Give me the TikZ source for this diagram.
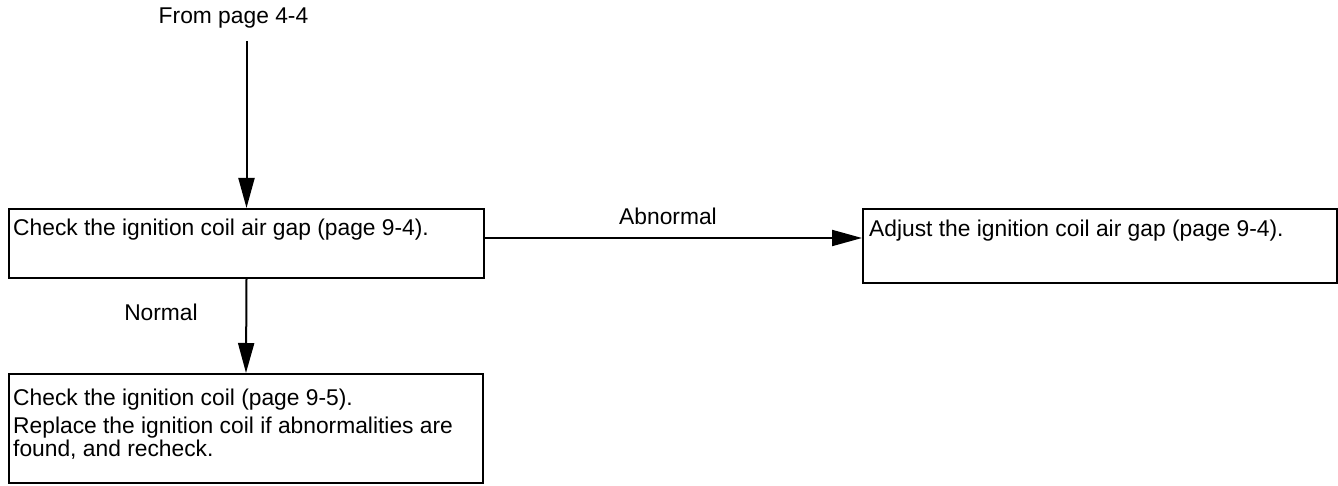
\documentclass[tikz,border=0pt]{standalone}
\usepackage{fontspec}
\setmainfont{Liberation Sans}
\usetikzlibrary{arrows.meta,fit}
\begin{document}
\begin{tikzpicture}[x=1pt,y=-1pt,
  stepbox/.style={draw, line width=2pt, inner sep=0pt},
  lbl/.style={anchor=base west, inner sep=0pt, font=\fontsize{22.8}{27}\selectfont},
  midlbl/.style={anchor=base, inner sep=0pt, font=\fontsize{22.8}{27}\selectfont},
  flow/.style={line width=2pt, -{Triangle[length=30pt,width=16pt]}}]
\useasboundingbox (0,0) rectangle (1338,486);

% step boxes
\node[stepbox, fit={(9,209) (484,278)}] (gapcheck) {};
\node[stepbox, fit={(863,209) (1337,283)}] (adjust) {};
\node[stepbox, fit={(9,374) (483,483)}] (coilcheck) {};

% box texts
\node[lbl] (gapcheckText) at (13,236) {Check the ignition coil air gap (page 9-4).};
\node[lbl] (adjustText) at (869,237) {Adjust the ignition coil air gap (page 9-4).};
\node[lbl] (coilText1) at (13,405) {Check the ignition coil (page 9-5).};
\node[lbl] (coilText2) at (13,433) {Replace the ignition coil if abnormalities are};
\node[lbl] (coilText3) at (13,456) {found, and recheck.};

% entry point
\node[midlbl] (from) at (233.5,24) {From page 4-4};
\coordinate (src) at (246.5,41);
\coordinate (abnY) at (0,238);

% connectors
\draw[flow] (src) -- (gapcheck.north);
\draw[flow] (gapcheck.south) -- (coilcheck.north);
\draw[flow] (gapcheck.east |- abnY) -- (adjust.west |- abnY);

% branch labels
\node[midlbl] (abn) at (668,225) {Abnormal};
\node[midlbl] (nrm) at (161,320) {Normal};
\end{tikzpicture}
\end{document}
